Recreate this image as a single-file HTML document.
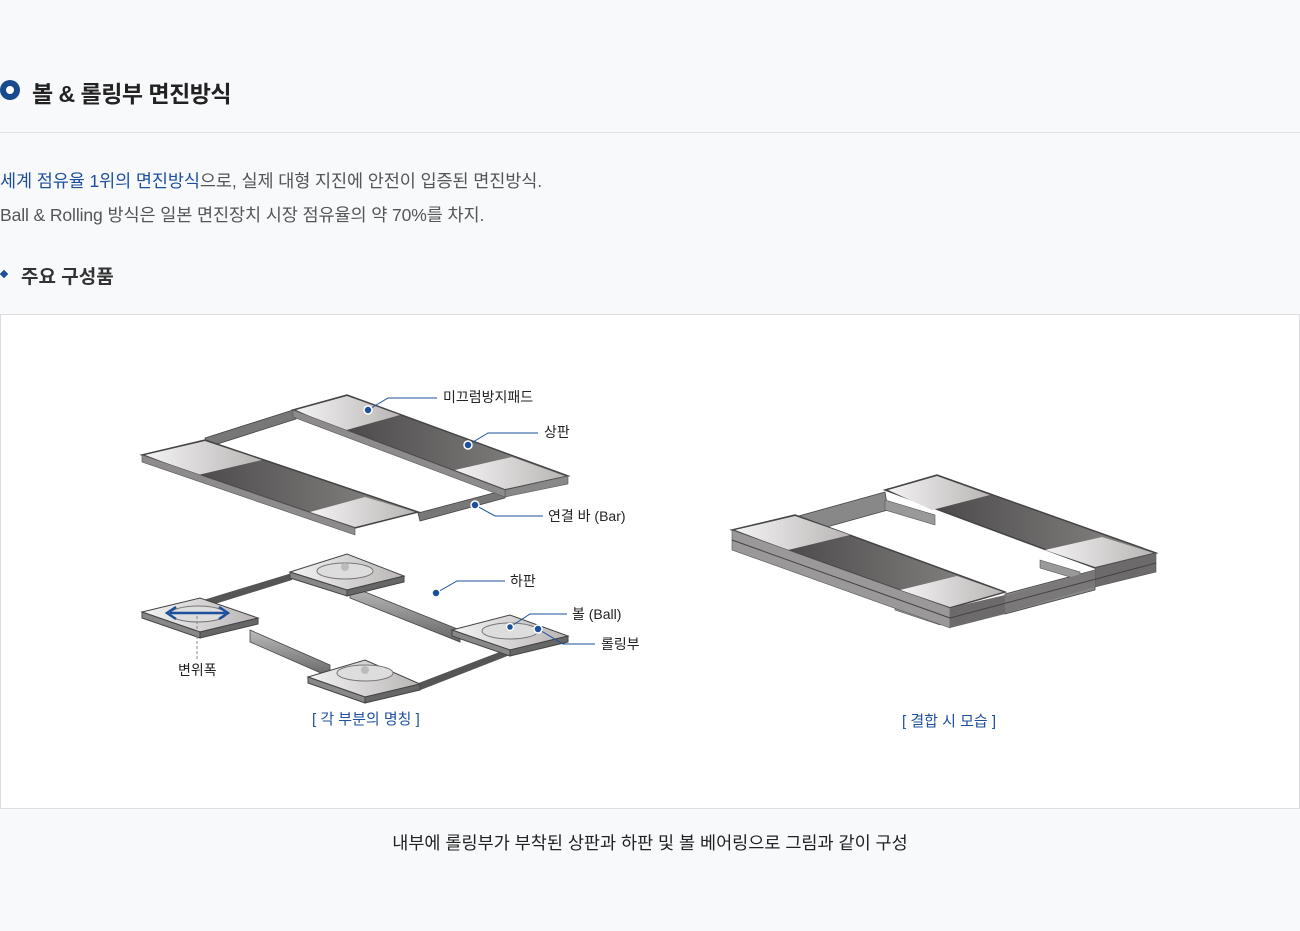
<!DOCTYPE html>
<html><head><meta charset="utf-8">
<style>
*{margin:0;padding:0;box-sizing:border-box}
body{width:1300px;height:931px;background:#f8f9fb;font-family:"Liberation Sans","Noto Sans CJK KR",sans-serif;color:#333;position:relative;overflow:hidden}
.a{position:absolute;white-space:nowrap}
</style></head><body>
<div class="a" style="left:0;top:80px;width:20px;height:20px;border-radius:50%;background:#1a4a8e"></div>
<div class="a" style="left:6px;top:86px;width:8px;height:8px;border-radius:50%;background:#fff"></div>
<div class="a" style="left:32px;top:75px;font-size:23px;font-weight:bold;color:#222;letter-spacing:-0.5px">볼 &amp; 롤링부 면진방식</div>
<div class="a" style="left:0;top:132px;width:1300px;height:1px;background:#dfe1e4"></div>
<div class="a" style="left:0;top:168px;font-size:17.5px;color:#555;letter-spacing:-0.1px"><span style="color:#1d4f9c">세계 점유율 1위의 면진방식</span>으로, 실제 대형 지진에 안전이 입증된 면진방식.</div>
<div class="a" style="left:0;top:202px;font-size:17.5px;color:#555;letter-spacing:-0.1px">Ball &amp; Rolling 방식은 일본 면진장치 시장 점유율의 약 70%를 차지.</div>
<div class="a" style="left:1px;top:271px;width:6px;height:6px;background:#1d4f9c;transform:rotate(45deg)"></div>
<div class="a" style="left:21px;top:262px;font-size:19px;font-weight:bold;color:#333">주요 구성품</div>
<div class="a" style="left:0;top:314px;width:1300px;height:495px;background:#fff;border:1px solid #dcdde0"></div>

<svg class="a" style="left:0;top:0" width="1300" height="931" viewBox="0 0 1300 931">
<defs>
<linearGradient id="pad" x1="0" y1="0" x2="1" y2="0"><stop offset="0" stop-color="#f4f3f3"/><stop offset="1" stop-color="#b9b5b5"/></linearGradient>
<linearGradient id="dk" x1="0" y1="0" x2="1" y2="0"><stop offset="0" stop-color="#3c3b3b"/><stop offset="1" stop-color="#8e8a8a"/></linearGradient>
<linearGradient id="bar" x1="0" y1="0" x2="0" y2="1"><stop offset="0" stop-color="#bbb"/><stop offset="1" stop-color="#666"/></linearGradient>
</defs>
<g font-family="Liberation Sans,Noto Sans CJK KR,sans-serif" font-size="14" fill="#222">
<polygon points="205,438 293,410 296,419 208,447" fill="#777" stroke="#444" stroke-width="0.8"/>
<polygon points="418,513 505,490 505,498 420,521" fill="#777" stroke="#444" stroke-width="0.8"/>
<polygon points="142,455 205,440 418,512 355,528" fill="url(#dk)" stroke="#444" stroke-width="1.5"/>
<polygon points="145,455 205,441 262,460 198,475" fill="url(#pad)"/>
<polygon points="310,512 365,497 415,512 355,527" fill="url(#pad)"/>
<polygon points="142,455 355,528 355,535 142,462" fill="#8d8b8b" stroke="#555" stroke-width="0.6"/>
<polygon points="293,410 347,395 568,476 505,490" fill="url(#dk)" stroke="#444" stroke-width="1.5"/>
<polygon points="296,410 347,396 400,415 343,431" fill="url(#pad)"/>
<polygon points="455,470 512,457 565,476 505,489" fill="url(#pad)"/>
<polygon points="505,490 568,476 568,484 505,497" fill="#888" stroke="#555" stroke-width="0.6"/>
<polygon points="293,410 505,490 505,497 293,417" fill="#8d8b8b" stroke="#555" stroke-width="0.6"/>
<polygon points="200,601 292,573 292,580 202,608" fill="#555"/>
<polygon points="350,586 460,630 460,642 350,598" fill="url(#bar)" stroke="#444" stroke-width="0.8"/>
<polygon points="250,630 330,665 330,677 250,642" fill="url(#bar)" stroke="#444" stroke-width="0.8"/>
<polygon points="416,684 510,648 510,655 418,691" fill="#555"/>
<g stroke="#444" stroke-width="1">
<polygon points="142,612 200,598 258,618 200,632" fill="url(#pad)"/>
<polygon points="142,612 200,632 200,638 142,618" fill="#888"/>
<polygon points="200,632 258,618 258,624 200,638" fill="#666"/>
<polygon points="290,572 347,554 404,576 347,590" fill="url(#pad)"/>
<polygon points="290,572 347,590 347,596 290,578" fill="#888"/>
<polygon points="347,590 404,576 404,582 347,596" fill="#666"/>
<polygon points="452,630 510,615 568,636 510,650" fill="url(#pad)"/>
<polygon points="452,630 510,650 510,656 452,636" fill="#888"/>
<polygon points="510,650 568,636 568,642 510,656" fill="#666"/>
<polygon points="308,677 365,660 420,684 365,697" fill="url(#pad)"/>
<polygon points="308,677 365,697 365,703 308,683" fill="#888"/>
<polygon points="365,697 420,684 420,690 365,703" fill="#666"/>
</g>
<ellipse cx="345" cy="571" rx="28" ry="8" fill="#ddd" stroke="#777"/><circle cx="345" cy="567" r="4" fill="#bbb"/>
<ellipse cx="510" cy="631" rx="28" ry="8" fill="#ddd" stroke="#777"/><circle cx="510" cy="627" r="4" fill="#bbb"/>
<ellipse cx="365" cy="673" rx="28" ry="8" fill="#ddd" stroke="#777"/><circle cx="365" cy="670" r="4" fill="#bbb"/>
<ellipse cx="198" cy="614" rx="28" ry="8" fill="#ddd" stroke="#777"/>
<line x1="170" y1="613" x2="225" y2="613" stroke="#1d4f9c" stroke-width="2.5"/>
<polyline points="176,607 167,613 176,619" fill="none" stroke="#1d4f9c" stroke-width="2.5"/>
<polyline points="219,607 228,613 219,619" fill="none" stroke="#1d4f9c" stroke-width="2.5"/>
<line x1="197" y1="616" x2="197" y2="660" stroke="#888" stroke-dasharray="3,2"/>
<g stroke="#1d4f9c" fill="none" stroke-width="1">
<polyline points="368,410 388,398 437,398"/>
<polyline points="468,445 488,433 538,433"/>
<polyline points="475,505 495,516 543,516"/>
<polyline points="436,593 457,581 505,581"/>
<polyline points="510,627 530,614 567,614"/>
<polyline points="538,629 563,644 595,644"/>
</g>
<g fill="#1d4f9c" stroke="#fff" stroke-width="1.5">
<circle cx="368" cy="410" r="4"/><circle cx="468" cy="445" r="4"/><circle cx="475" cy="505" r="4"/>
<circle cx="436" cy="593" r="4"/><circle cx="510" cy="627" r="3.5"/><circle cx="538" cy="629" r="4"/>
</g>
<text x="443" y="402">미끄럼방지패드</text>
<text x="544" y="437">상판</text>
<text x="548" y="521">연결 바 (Bar)</text>
<text x="510" y="586">하판</text>
<text x="572" y="619">볼 (Ball)</text>
<text x="601" y="649">롤링부</text>
<text x="178" y="675">변위폭</text>
<text x="312" y="724" fill="#1d4f9c" font-size="15">[ 각 부분의 명칭 ]</text>
<text x="902" y="726" fill="#1d4f9c" font-size="15">[ 결합 시 모습 ]</text>
<polygon points="795,517 885,492 888,510 798,535" fill="#888" stroke="#444" stroke-width="0.8"/>
<polygon points="1005,594 1095,570 1095,590 1005,614" fill="#888" stroke="#444" stroke-width="0.8"/>
<polygon points="790,548 830,560 830,570 790,558" fill="#999" stroke="#555" stroke-width="0.6"/>
<polygon points="895,600 940,615 940,625 895,610" fill="#999" stroke="#555" stroke-width="0.6"/>
<polygon points="885,500 935,515 935,525 885,510" fill="#999" stroke="#555" stroke-width="0.6"/>
<polygon points="1040,560 1080,572 1080,580 1040,568" fill="#999" stroke="#555" stroke-width="0.6"/>
<polygon points="732,530 795,515 1005,592 950,608" fill="url(#dk)" stroke="#444" stroke-width="1.5"/>
<polygon points="735,530 795,516 850,535 788,550" fill="url(#pad)"/>
<polygon points="900,590 957,576 1003,592 950,607" fill="url(#pad)"/>
<polygon points="732,530 950,608 950,628 732,550" fill="#9a9898" stroke="#555" stroke-width="0.6"/>
<line x1="732" y1="540" x2="950" y2="618" stroke="#444"/>
<polygon points="885,490 937,475 1156,553 1095,568" fill="url(#dk)" stroke="#444" stroke-width="1.5"/>
<polygon points="888,490 937,476 990,495 932,510" fill="url(#pad)"/>
<polygon points="1045,550 1102,537 1153,553 1095,567" fill="url(#pad)"/>
<polygon points="1095,568 1156,553 1156,572 1095,587" fill="#6c6a6a" stroke="#555" stroke-width="0.6"/>
<polygon points="1005,596 1095,570 1095,587 1005,613" fill="#7a7878"/>
<polygon points="950,608 1005,595 1005,614 950,628" fill="#6c6a6a"/>
<line x1="950" y1="618" x2="1156" y2="563" stroke="#444"/>
</g>
</svg>
<div class="a" style="left:0;top:830px;width:1300px;text-align:center;font-size:17.5px;color:#222">내부에 롤링부가 부착된 상판과 하판 및 볼 베어링으로 그림과 같이 구성</div>
</body></html>
